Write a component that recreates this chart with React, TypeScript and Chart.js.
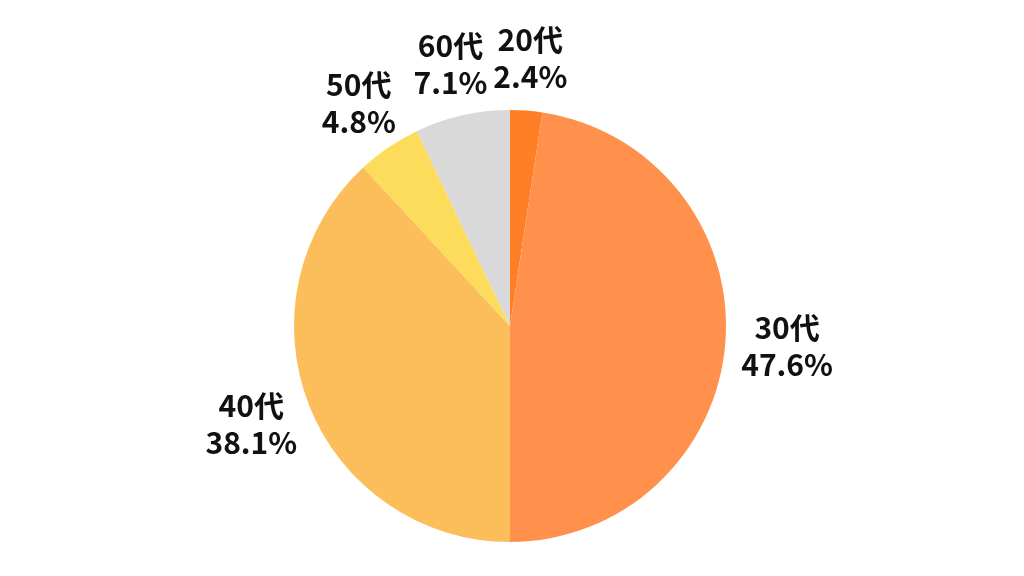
import React, { useEffect, useRef } from "react";
import { Chart, registerables } from "chart.js";

Chart.register(...registerables);

const categories = ["20代", "30代", "40代", "50代", "60代"];
const values = [2.4, 47.6, 38.1, 4.8, 7.1];
const valueLabels = ["2.4%", "47.6%", "38.1%", "4.8%", "7.1%"];
const colors = ["#FF7F27", "#FF914D", "#FCBE5B", "#FDDC5C", "#D9D9D9"];

const FONT = 'bold 30px "Noto Sans CJK JP", "Noto Sans", sans-serif';
const LINE_H = 37;

const outsideLabels = {
  id: "outsideLabels",
  afterDatasetsDraw(chart: any) {
    const ctx = chart.ctx;
    const meta = chart.getDatasetMeta(0);
    ctx.save();
    ctx.font = FONT;
    ctx.fillStyle = "#111111";
    ctx.textAlign = "center";
    ctx.textBaseline = "middle";
    meta.data.forEach((arc: any, i: number) => {
      const { x, y, startAngle, endAngle, outerRadius } = arc.getProps(
        ["x", "y", "startAngle", "endAngle", "outerRadius"],
        true
      );
      const mid = (startAngle + endAngle) / 2;
      const cx = Math.cos(mid);
      const cy = Math.sin(mid);
      const l1 = categories[i];
      const l2 = valueLabels[i];
      const w = Math.max(ctx.measureText(l1).width, ctx.measureText(l2).width);
      const halfW = w / 2;
      const halfH = LINE_H;
      const gap = 16;
      const px = x + cx * (outerRadius + gap + halfW);
      const py = y + cy * (outerRadius + gap + halfH);
      ctx.fillText(l1, px, py - LINE_H / 2);
      ctx.fillText(l2, px, py + LINE_H / 2);
    });
    ctx.restore();
  },
};

export default function App() {
  const ref = useRef<HTMLCanvasElement | null>(null);
  useEffect(() => {
    document.body.style.margin = "0";
    if (!ref.current) return;
    const chart = new Chart(ref.current, {
      type: "pie",
      data: {
        labels: categories,
        datasets: [
          {
            data: values,
            backgroundColor: colors,
            borderWidth: 0,
          },
        ],
      },
      options: {
        responsive: false,
        animation: false,
        layout: { padding: { left: 294, right: 298, top: 110, bottom: 34 } },
        plugins: {
          legend: { display: false },
          tooltip: { enabled: false },
        },
      },
      plugins: [outsideLabels],
    });
    return () => chart.destroy();
  }, []);
  return (
    <div style={{ width: 1024, height: 576, background: "#ffffff" }}>
      <canvas ref={ref} width={1024} height={576} style={{ display: "block" }} />
    </div>
  );
}
